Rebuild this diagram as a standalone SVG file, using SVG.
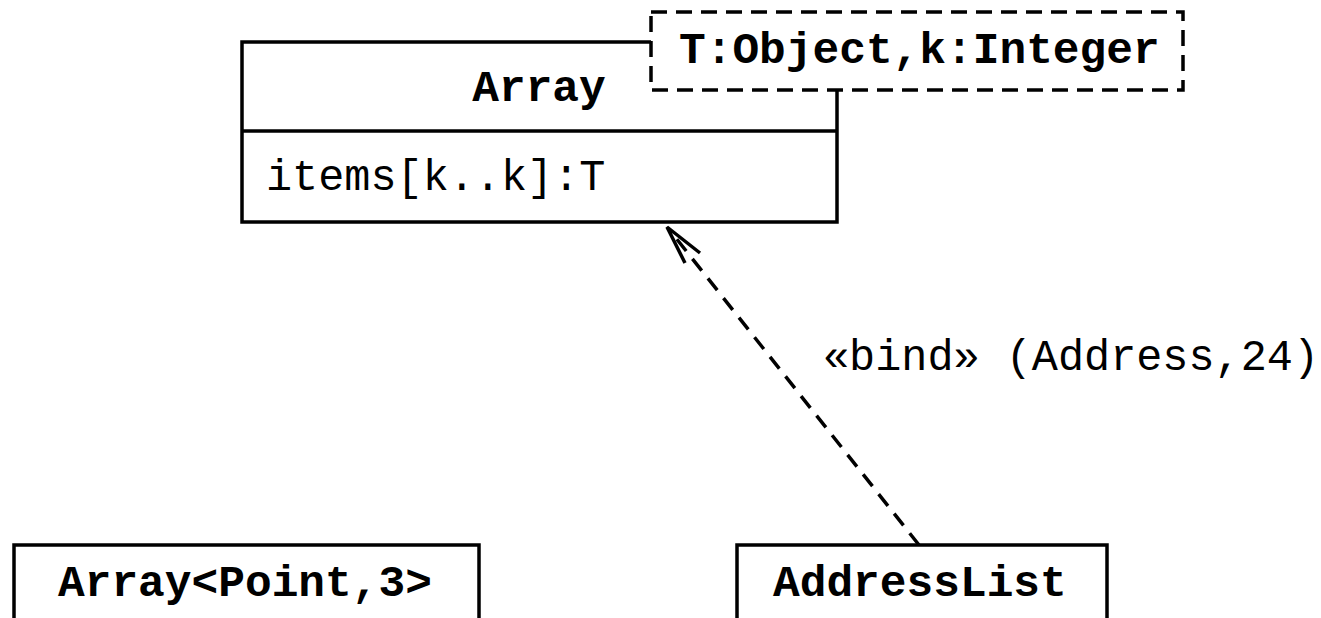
<svg xmlns="http://www.w3.org/2000/svg" width="1321" height="618" viewBox="0 0 1321 618">
  <style>
    .box { fill: #fff; stroke: #000; stroke-width: 3.5; }
    .tpl { fill: #fff; stroke: #000; stroke-width: 3.5; stroke-dasharray: 16 9; }
    .name { font-family: "Liberation Mono", "Courier New", monospace; font-weight: bold; font-size: 44.5px; fill: #000; }
    .attr { font-family: "Liberation Mono", "Courier New", monospace; font-size: 43.5px; fill: #000; }
    .dep { fill: none; stroke: #000; stroke-width: 3.5; stroke-dasharray: 15 10; }
    .head { fill: none; stroke: #000; stroke-width: 3.5; }
  </style>
  <rect width="1321" height="618" fill="#fff"/>

  <g id="connectors">
    <line class="dep" x1="919" y1="545" x2="668" y2="228"/>
    <polyline class="head" points="700,253 667,227 685,263"/>
    <text class="attr" x="823" y="370">«bind» (Address,24)</text>
  </g>

  <g id="array">
    <rect class="box" x="242" y="42" width="595" height="180"/>
    <line x1="242" y1="131" x2="837" y2="131" stroke="#000" stroke-width="3.5"/>
    <text class="name" x="539" y="101" text-anchor="middle">Array</text>
    <text class="attr" x="266" y="190">items[k..k]:T</text>
  </g>

  <g id="array-params">
    <rect class="tpl" x="651" y="12" width="532" height="78"/>
    <text class="name" x="679" y="63">T:Object,k:Integer</text>
  </g>

  <g id="array-point-3">
    <rect class="box" x="14" y="545" width="465" height="90"/>
    <text class="name" x="58" y="596">Array&lt;Point,3&gt;</text>
  </g>

  <g id="address-list">
    <rect class="box" x="737" y="545" width="370" height="90"/>
    <text class="name" x="773" y="596">AddressList</text>
  </g>
</svg>
